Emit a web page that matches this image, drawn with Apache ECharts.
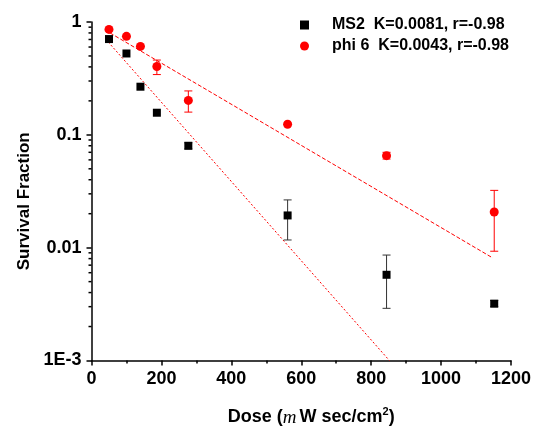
<!DOCTYPE html>
<html>
<head>
<meta charset="UTF-8">
<title>Survival Fraction</title>
<script src="https://cdn.jsdelivr.net/npm/echarts@6/dist/echarts.min.js"></script>
<style>
  html, body { margin: 0; padding: 0; background: #fff; }
  #main { width: 534px; height: 428px; }
</style>
</head>
<body>
<div id="main"></div>
<script>
// data
var dose = [50, 100, 140, 187, 277, 561, 844, 1152];

var ms2 = [0.706, 0.526, 0.267, 0.157, 0.080, 0.0193, 0.00575, 0.00319];
var ms2Low = [null, null, null, null, 0.075, 0.0117, 0.0029, 0.0030];
var ms2High = [null, null, null, null, 0.085, 0.0265, 0.0086, 0.0034];

var phi6 = [0.86, 0.746, 0.608, 0.403, 0.202, 0.124, 0.0654, 0.0207];
var phi6Low = [null, null, null, 0.342, 0.159, null, 0.061, 0.0093];
var phi6High = [null, null, null, 0.46, 0.245, null, 0.070, 0.0322];

// fitted lines (end points)
var ms2Fit = [[48, 0.664], [852, 0.001]];
var phi6Fit = [[53, 0.80], [1148, 0.0081]];

var yLabels = { '0': '1', '-1': '0.1', '-2': '0.01', '-3': '1E-3' };
var yMinor = [0.002, 0.003, 0.004, 0.005, 0.006, 0.007, 0.008, 0.009,
              0.02, 0.03, 0.04, 0.05, 0.06, 0.07, 0.08, 0.09,
              0.2, 0.3, 0.4, 0.5, 0.6, 0.7, 0.8, 0.9];

var nameMs2 = 'MS2  K=0.0081, r=-0.98';
var namePhi = 'phi 6  K=0.0043, r=-0.98';

function pairs(xs, ys) {
  var out = [];
  for (var i = 0; i < xs.length; i++) out.push([xs[i], ys[i]]);
  return out;
}
function errs(xs, lo, hi) {
  var out = [];
  for (var i = 0; i < xs.length; i++) {
    if (lo[i] != null) out.push([xs[i], lo[i], hi[i]]);
  }
  return out;
}
function errorBars(color) {
  return function (params, api) {
    var top = api.coord([api.value(0), api.value(2)]);
    var bot = api.coord([api.value(0), api.value(1)]);
    var w = 4;
    var st = { stroke: color, lineWidth: 1 };
    return {
      type: 'group',
      children: [
        { type: 'line', shape: { x1: top[0], y1: top[1], x2: bot[0], y2: bot[1] }, style: st },
        { type: 'line', shape: { x1: top[0] - w, y1: top[1], x2: top[0] + w, y2: top[1] }, style: st },
        { type: 'line', shape: { x1: bot[0] - w, y1: bot[1], x2: bot[0] + w, y2: bot[1] }, style: st }
      ]
    };
  };
}

var font = 'Arial, "Liberation Sans", sans-serif';
var myChart = echarts.init(document.getElementById('main'));

var option = {
  animation: false,
  backgroundColor: '#fff',
  grid: { left: 91.5, right: 23, top: 22, bottom: 67.5, containLabel: false, outerBoundsMode: 'none' },
  legend: {
    orient: 'vertical',
    left: 295,
    top: 12,
    itemWidth: 9,
    itemHeight: 9,
    itemGap: 5,
    data: [
      { name: nameMs2, icon: 'rect' },
      { name: namePhi, icon: 'circle' }
    ],
    formatter: '{s|}{name}',
    textStyle: {
      fontFamily: font, fontWeight: 'bold', fontSize: 16, color: '#000',
      rich: { s: { width: 18 } }
    }
  },
  xAxis: {
    type: 'value',
    min: 0, max: 1200, interval: 200,
    name: 'Dose ({i|m}W sec/cm{sup|2})',
    nameLocation: 'middle',
    nameGap: 46,
    nameTextStyle: {
      fontFamily: font, fontWeight: 'bold', fontSize: 18, color: '#000',
      padding: [0, 0, 0, 20],
      rich: {
        i: { fontFamily: '"Liberation Serif", "Times New Roman", serif', fontStyle: 'italic', fontWeight: 'normal', fontSize: 19, color: '#000', padding: [0, 3, 0, 0] },
        sup: { fontFamily: font, fontWeight: 'bold', fontSize: 11, color: '#000', verticalAlign: 'bottom', padding: [0, 0, 11, 0] }
      }
    },
    axisLine: { lineStyle: { color: '#000', width: 1.5 } },
    axisTick: { length: 5, lineStyle: { color: '#000', width: 1.5 } },
    minorTick: { show: true, splitNumber: 2, length: 3, lineStyle: { color: '#000', width: 1.5 } },
    axisLabel: {
      margin: 10, fontFamily: font, fontWeight: 'bold', fontSize: 18, color: '#000',
      formatter: function (v) { return String(v); }
    },
    splitLine: { show: false }
  },
  yAxis: {
    type: 'log',
    logBase: 10,
    min: 0.001, max: 1,
    name: 'Survival Fraction',
    nameLocation: 'middle',
    nameGap: 58,
    nameTextStyle: {
      fontFamily: font, fontWeight: 'bold', fontSize: 17, color: '#000',
      padding: [0, 20, 0, 0]
    },
    axisLine: { lineStyle: { color: '#000', width: 1.5 } },
    axisTick: { length: 5, lineStyle: { color: '#000', width: 1.5 } },
    axisLabel: {
      margin: 10, fontFamily: font, fontWeight: 'bold', fontSize: 18, color: '#000',
      formatter: function (v) {
        var e = Math.round(Math.log(v) / Math.LN10);
        return yLabels[String(e)] || '';
      }
    },
    splitLine: { show: false }
  },
  series: [
    {
      type: 'line', data: ms2Fit, symbol: 'none', silent: true,
      lineStyle: { color: '#ff0000', width: 1, type: [2, 2] }, z: 1
    },
    {
      type: 'line', data: phi6Fit, symbol: 'none', silent: true,
      lineStyle: { color: '#ff0000', width: 1, type: [4, 2] }, z: 1
    },
    {
      type: 'custom', data: errs(dose, ms2Low, ms2High),
      renderItem: errorBars('#333'), z: 2
    },
    {
      type: 'custom', data: errs(dose, phi6Low, phi6High),
      renderItem: errorBars('#ff0000'), z: 2
    },
    {
      name: nameMs2, type: 'scatter', data: pairs(dose, ms2),
      symbol: 'rect', symbolSize: 8, itemStyle: { color: '#000', opacity: 1 }, z: 3
    },
    {
      name: namePhi, type: 'scatter', data: pairs(dose, phi6),
      symbol: 'circle', symbolSize: 9, itemStyle: { color: '#ff0000', opacity: 1 }, z: 3
    },
    {
      // minor ticks of the log axis at 2..9 of each decade
      type: 'custom', silent: true, clip: false,
      data: yMinor.map(function (v) { return [0, v]; }),
      renderItem: function (params, api) {
        var p = api.coord([0, api.value(1)]);
        return {
          type: 'line',
          shape: { x1: p[0] - 3, y1: p[1], x2: p[0], y2: p[1] },
          style: { stroke: '#000', lineWidth: 1.5 }
        };
      }
    }
  ]
};

myChart.setOption(option);
</script>
</body>
</html>
